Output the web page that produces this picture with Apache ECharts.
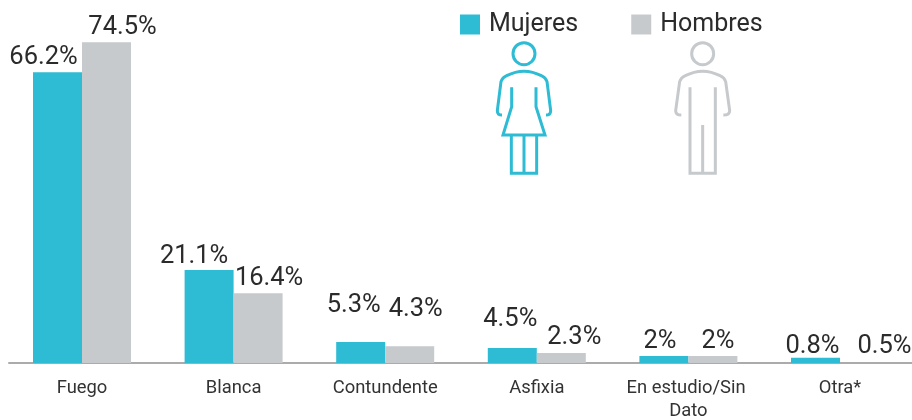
<!DOCTYPE html>
<html><head><meta charset="utf-8">
<style>html,body{margin:0;padding:0;background:#fff}#c{width:912px;height:420px}</style>
<script src="https://cdn.jsdelivr.net/npm/echarts@6/dist/echarts.min.js"></script>
</head><body><div id="c"></div>
<script>
const categories = ['Fuego','Blanca','Contundente','Asfixia','En estudio/Sin Dato','Otra*'];
const mujeresBarras = [67.5,21.6,4.9,3.5,1.6,1.2];
const hombresBarras = [74.5,16.2,3.9,2.3,1.6,0];
const mujeresEtiquetas = ['66.2%','21.1%','5.3%','4.5%','2%','0.8%'];
const hombresEtiquetas = ['74.5%','16.4%','4.3%','2.3%','2%','0.5%'];
const mujeresDesplazamiento = [[-14,-3],[-15,-1],[-7,-24],[-2,-16],[-4,-2],[-3,1]];
const hombresDesplazamiento = [[16,-3],[11,-3],[6,-25],[13,-3],[5,-2],[20,-4]];

const TEAL='#2EBBD4', GRIS='#C6CACD', FONT='Roboto';
function serie(name,color,vals,labs,offs){
  return {name,type:'bar',barWidth:49,barGap:0,itemStyle:{color},
    data:vals.map((v,i)=>({value:v,label:{offset:offs[i],formatter:labs[i]}})),
    label:{show:true,position:'top',distance:0,fontFamily:FONT,fontSize:25.5,lineHeight:24,color:'#2b2b2b'}};
}
const mujerPath='M186 345 Q172 345 172 332 L183 245 Q187 232 200 227 Q252 200 304 227 Q317 232 321 245 L332 332 Q332 345 318 345 M215 262 L215 320 L189 405 L315 405 L288 320 L288 262 M214 405 L214 520 L290 520 L290 405 M252 405 L252 520';
const hombrePath='M724 345 Q707 345 707 332 L719 245 Q723 232 736 227 Q788 200 840 227 Q853 232 857 245 L869 332 Q869 345 850 345 M750 262 L750 520 L826 520 L826 262 M788 375 L788 520';
echarts.graphic.registerShape('mujer',echarts.graphic.extendPath(mujerPath,{}));
echarts.graphic.registerShape('hombre',echarts.graphic.extendPath(hombrePath,{}));
function figura(x,color,forma){
  return {type:'group',x:440,y:0,scaleX:1/3,scaleY:1/3,children:[
    {type:'circle',shape:{cx:x,cy:161,r:33},style:{fill:null,stroke:color,lineWidth:9}},
    {type:forma,style:{fill:null,stroke:color,lineWidth:9}},
  ]};
}

const chart=echarts.init(document.getElementById('c'),null,{renderer:'canvas'});
chart.setOption({
  animation:false,
  textStyle:{fontFamily:FONT},
  legend:{left:460,top:12,padding:0,itemWidth:20,itemHeight:20,itemGap:53,icon:'rect',
    selectedMode:false,data:['Mujeres','Hombres'],
    textStyle:{fontFamily:FONT,fontSize:25,color:'#2b2b2b',padding:[0,0,0,4]}},
  grid:[
    {left:6.2,right:-3.8,top:40,bottom:57,outerBoundsMode:'none'},
    {left:9,right:0,top:40,bottom:57,outerBoundsMode:'none'}
  ],
  xAxis:[
    {type:'category',gridIndex:0,data:categories,axisLine:{show:false},axisTick:{show:false},
     axisLabel:{interval:0,margin:14,fontFamily:FONT,fontSize:18.4,lineHeight:23,color:'#333',width:140,overflow:'break'}},
    {type:'category',gridIndex:1,data:[''],axisLine:{show:true,lineStyle:{color:'#ABABAB',width:2}},axisTick:{show:false},axisLabel:{show:false}}
  ],
  yAxis:[
    {type:'value',gridIndex:0,min:0,max:75,show:false},
    {type:'value',gridIndex:1,min:0,max:75,show:false}
  ],
  series:[
    serie('Mujeres',TEAL,mujeresBarras,mujeresEtiquetas,mujeresDesplazamiento),
    serie('Hombres',GRIS,hombresBarras,hombresEtiquetas,hombresDesplazamiento)
  ],
  graphic:[figura(252,TEAL,'mujer'),figura(788,GRIS,'hombre')]
});
</script></body></html>
